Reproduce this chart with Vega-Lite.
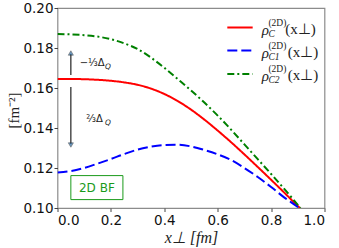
{
  "$schema": "https://vega.github.io/schema/vega-lite/v6.json",
  "width": 267,
  "height": 200,
  "autosize": {"type": "none"},
  "padding": {"left": 57.5, "top": 8, "right": 14.5, "bottom": 40},
  "config": {
    "view": {"stroke": "#8c8c8c", "strokeWidth": 1.2},
    "axis": {
      "grid": false, "domain": false, "tickColor": "#444", "tickSize": 3.5, "labelOverlap": false,
      "labelFont": "DejaVu Sans", "labelFontSize": 13.5, "labelColor": "#111",
      "titleFont": "Liberation Serif", "titleFontWeight": "normal", "titleColor": "#222"
    }
  },
  "datasets": {
    "curves": [
      {"series": "C", "x": 0.0, "y": 0.1645}, {"series": "C", "x": 0.05, "y": 0.1645}, {"series": "C", "x": 0.1, "y": 0.1644},
      {"series": "C", "x": 0.15, "y": 0.1641}, {"series": "C", "x": 0.2, "y": 0.1636}, {"series": "C", "x": 0.25, "y": 0.1628},
      {"series": "C", "x": 0.3, "y": 0.1616}, {"series": "C", "x": 0.35, "y": 0.1597}, {"series": "C", "x": 0.4, "y": 0.157},
      {"series": "C", "x": 0.45, "y": 0.1535}, {"series": "C", "x": 0.5, "y": 0.1492}, {"series": "C", "x": 0.55, "y": 0.1442},
      {"series": "C", "x": 0.6, "y": 0.1387}, {"series": "C", "x": 0.65, "y": 0.1329}, {"series": "C", "x": 0.7, "y": 0.1268},
      {"series": "C", "x": 0.75, "y": 0.1205}, {"series": "C", "x": 0.8, "y": 0.1141}, {"series": "C", "x": 0.85, "y": 0.1076},
      {"series": "C", "x": 0.9, "y": 0.101}, {"series": "C", "x": 0.908, "y": 0.1},
      {"series": "C1", "x": 0.0, "y": 0.1178}, {"series": "C1", "x": 0.05, "y": 0.1185}, {"series": "C1", "x": 0.1, "y": 0.12},
      {"series": "C1", "x": 0.15, "y": 0.1222}, {"series": "C1", "x": 0.2, "y": 0.1245}, {"series": "C1", "x": 0.25, "y": 0.127},
      {"series": "C1", "x": 0.3, "y": 0.1292}, {"series": "C1", "x": 0.35, "y": 0.1307}, {"series": "C1", "x": 0.4, "y": 0.1315},
      {"series": "C1", "x": 0.45, "y": 0.1316}, {"series": "C1", "x": 0.5, "y": 0.1308}, {"series": "C1", "x": 0.55, "y": 0.129},
      {"series": "C1", "x": 0.6, "y": 0.1268}, {"series": "C1", "x": 0.65, "y": 0.124}, {"series": "C1", "x": 0.7, "y": 0.12},
      {"series": "C1", "x": 0.75, "y": 0.1155}, {"series": "C1", "x": 0.8, "y": 0.1105}, {"series": "C1", "x": 0.85, "y": 0.1052},
      {"series": "C1", "x": 0.9, "y": 0.1005}, {"series": "C1", "x": 0.905, "y": 0.1},
      {"series": "C2", "x": 0.0, "y": 0.187}, {"series": "C2", "x": 0.05, "y": 0.1868}, {"series": "C2", "x": 0.1, "y": 0.1864},
      {"series": "C2", "x": 0.15, "y": 0.1857}, {"series": "C2", "x": 0.2, "y": 0.1844}, {"series": "C2", "x": 0.25, "y": 0.1823},
      {"series": "C2", "x": 0.3, "y": 0.1795}, {"series": "C2", "x": 0.35, "y": 0.1752}, {"series": "C2", "x": 0.4, "y": 0.1701},
      {"series": "C2", "x": 0.45, "y": 0.1645}, {"series": "C2", "x": 0.5, "y": 0.1588}, {"series": "C2", "x": 0.55, "y": 0.1527},
      {"series": "C2", "x": 0.6, "y": 0.1462}, {"series": "C2", "x": 0.65, "y": 0.1392}, {"series": "C2", "x": 0.7, "y": 0.1318},
      {"series": "C2", "x": 0.75, "y": 0.1244}, {"series": "C2", "x": 0.8, "y": 0.117}, {"series": "C2", "x": 0.85, "y": 0.1094},
      {"series": "C2", "x": 0.9, "y": 0.1016}, {"series": "C2", "x": 0.91, "y": 0.1}
    ],
    "legendLines": [
      {"series": "C", "x": 0.636, "x2": 0.731, "y": 0.1902},
      {"series": "C1", "x": 0.636, "x2": 0.731, "y": 0.1787},
      {"series": "C2", "x": 0.636, "x2": 0.731, "y": 0.167}
    ],
    "legendMain": [
      {"x": 0.765, "y": 0.1902, "t": "ρ"}, {"x": 0.765, "y": 0.1787, "t": "ρ"}, {"x": 0.765, "y": 0.167, "t": "ρ"}
    ],
    "legendArg": [
      {"x": 0.853, "y": 0.1902, "t": "(x⊥)"}, {"x": 0.862, "y": 0.1787, "t": "(x⊥)"}, {"x": 0.862, "y": 0.167, "t": "(x⊥)"}
    ],
    "legendSup": [
      {"x": 0.79, "y": 0.1902, "t": "(2D)"}, {"x": 0.79, "y": 0.1787, "t": "(2D)"}, {"x": 0.79, "y": 0.167, "t": "(2D)"}
    ],
    "legendSub": [
      {"x": 0.79, "y": 0.1902, "t": "C"}, {"x": 0.79, "y": 0.1787, "t": "C1"}, {"x": 0.79, "y": 0.167, "t": "C2"}
    ],
    "shafts": [
      {"x": 0.05, "y": 0.1665, "y2": 0.177},
      {"x": 0.05, "y": 0.1605, "y2": 0.132}
    ],
    "heads": [
      {"x": 0.05, "y": 0.1775, "dir": "up"},
      {"x": 0.05, "y": 0.1315, "dir": "down"}
    ],
    "annMain": [
      {"x": 0.083, "y": 0.1725, "t": "−⅓Δ"},
      {"x": 0.108, "y": 0.1447, "t": "⅔Δ"}
    ],
    "annSub": [
      {"x": 0.178, "y": 0.1725, "t": "Q"},
      {"x": 0.178, "y": 0.1447, "t": "Q"}
    ],
    "box": [{"x": 0.05, "x2": 0.245, "y": 0.1042, "y2": 0.1162}],
    "boxLabel": [{"x": 0.1475, "y": 0.1102, "t": "2D BF"}]
  },
  "encoding": {
    "x": {"field": "x", "type": "quantitative", "scale": {"domain": [0, 1]},
          "axis": {"values": [0, 0.2, 0.4, 0.6, 0.8, 1.0], "format": ".1f", "title": "x⊥ [fm]", "labelOverlap": false,
                   "titleFontSize": 16, "titleFontStyle": "italic", "titleY": 29, "titleBaseline": "middle", "labelPadding": 1.5}},
    "y": {"field": "y", "type": "quantitative", "scale": {"domain": [0.1, 0.2]},
          "axis": {"values": [0.1, 0.12, 0.14, 0.16, 0.18, 0.2], "format": ".2f", "title": "[fm⁻²]", "labelOverlap": false,
                   "titleFontSize": 15, "titleX": -44, "titleY": 102, "titleAlign": "center", "titleBaseline": "middle", "labelPadding": 1}}
  },
  "layer": [
    {
      "data": {"name": "curves"},
      "mark": {"type": "line", "strokeWidth": 2, "clip": true, "interpolate": "monotone"},
      "encoding": {
        "color": {"field": "series", "type": "nominal", "scale": {"domain": ["C", "C1", "C2"], "range": ["#ff0000", "#0000ff", "#008000"]}, "legend": null},
        "strokeDash": {"field": "series", "type": "nominal", "scale": {"domain": ["C", "C1", "C2"], "range": [[1, 0], [10, 4], [7, 3, 2, 3]]}, "legend": null}
      }
    },
    {
      "data": {"name": "legendLines"},
      "mark": {"type": "rule", "strokeWidth": 2},
      "encoding": {
        "x2": {"field": "x2"},
        "color": {"field": "series", "type": "nominal", "scale": {"domain": ["C", "C1", "C2"], "range": ["#ff0000", "#0000ff", "#008000"]}, "legend": null},
        "strokeDash": {"field": "series", "type": "nominal", "scale": {"domain": ["C", "C1", "C2"], "range": [[1, 0], [10, 4], [7, 3, 2, 3]]}, "legend": null}
      }
    },
    {
      "data": {"name": "legendMain"},
      "mark": {"type": "text", "font": "Liberation Serif", "fontStyle": "italic", "fontSize": 15, "align": "left", "baseline": "middle", "dy": 2, "color": "#222"},
      "encoding": {"text": {"field": "t"}}
    },
    {
      "data": {"name": "legendArg"},
      "mark": {"type": "text", "font": "Liberation Serif", "fontSize": 15, "align": "left", "baseline": "middle", "dy": 1, "color": "#222"},
      "encoding": {"text": {"field": "t"}}
    },
    {
      "data": {"name": "legendSup"},
      "mark": {"type": "text", "font": "Liberation Serif", "fontSize": 9.5, "align": "left", "baseline": "middle", "dy": -5, "color": "#222"},
      "encoding": {"text": {"field": "t"}}
    },
    {
      "data": {"name": "legendSub"},
      "mark": {"type": "text", "font": "Liberation Serif", "fontStyle": "italic", "fontSize": 9.5, "align": "left", "baseline": "middle", "dy": 6, "color": "#222"},
      "encoding": {"text": {"field": "t"}}
    },
    {
      "data": {"name": "shafts"},
      "mark": {"type": "rule", "strokeWidth": 1.2, "color": "#222"},
      "encoding": {"y2": {"field": "y2"}}
    },
    {
      "data": {"name": "heads"},
      "mark": {"type": "point", "filled": true, "size": 26, "color": "#2e6da4", "stroke": "#222", "strokeWidth": 0.6},
      "encoding": {
        "shape": {"field": "dir", "type": "nominal", "scale": {"domain": ["up", "down"], "range": ["triangle-up", "triangle-down"]}, "legend": null}
      }
    },
    {
      "data": {"name": "annMain"},
      "mark": {"type": "text", "font": "DejaVu Sans", "fontSize": 10, "align": "left", "baseline": "middle", "color": "#222"},
      "encoding": {"text": {"field": "t"}}
    },
    {
      "data": {"name": "annSub"},
      "mark": {"type": "text", "font": "DejaVu Sans", "fontStyle": "italic", "fontSize": 7.5, "align": "left", "baseline": "middle", "dy": 4, "color": "#222"},
      "encoding": {"text": {"field": "t"}}
    },
    {
      "data": {"name": "box"},
      "mark": {"type": "rect", "fill": "white", "stroke": "#1a9a1a", "strokeWidth": 1},
      "encoding": {"x2": {"field": "x2"}, "y2": {"field": "y2"}}
    },
    {
      "data": {"name": "boxLabel"},
      "mark": {"type": "text", "font": "DejaVu Sans", "fontSize": 12, "align": "center", "baseline": "middle", "color": "#1a9a1a"},
      "encoding": {"text": {"field": "t"}}
    }
  ]
}
